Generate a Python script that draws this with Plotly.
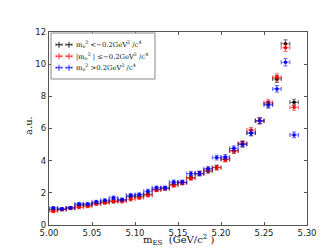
import plotly.graph_objects as go

x_centers = [5.005, 5.015, 5.025, 5.035, 5.045, 5.055, 5.065, 5.075, 5.085, 5.095,
             5.105, 5.115, 5.125, 5.135, 5.145, 5.155, 5.165, 5.175, 5.185, 5.195,
             5.205, 5.215, 5.225, 5.235, 5.245, 5.255, 5.265, 5.275, 5.285]
half_width = [0.005] * len(x_centers)

black_vals = [0.96, 0.97, 1.06, 1.23, 1.23, 1.33, 1.42, 1.48, 1.54, 1.77,
              1.79, 1.90, 2.20, 2.27, 2.52, 2.63, 2.95, 3.20, 3.35, 3.58,
              4.10, 4.62, 5.02, 5.72, 6.48, 7.52, 9.08, 11.27, 7.63]
red_vals = [0.85, 0.97, 1.04, 1.10, 1.17, 1.33, 1.38, 1.48, 1.48, 1.60,
            1.69, 1.85, 2.18, 2.27, 2.46, 2.63, 2.90, 3.20, 3.42, 3.56,
            4.06, 4.60, 5.08, 5.90, 6.48, 7.63, 9.19, 11.02, 7.31]
blue_vals = [1.06, 1.00, 1.06, 1.31, 1.31, 1.44, 1.54, 1.69, 1.58, 1.85,
             1.90, 2.10, 2.31, 2.31, 2.67, 2.67, 3.20, 3.20, 3.50, 4.19,
             4.23, 4.77, 5.02, 5.72, 6.48, 7.46, 8.46, 10.12, 5.60]

black_err = [0.08, 0.08, 0.08, 0.09, 0.09, 0.09, 0.09, 0.10, 0.10, 0.10,
             0.10, 0.11, 0.11, 0.11, 0.12, 0.12, 0.12, 0.13, 0.13, 0.14,
             0.14, 0.15, 0.16, 0.17, 0.18, 0.19, 0.21, 0.24, 0.19]
red_err = [0.08, 0.08, 0.08, 0.08, 0.09, 0.09, 0.09, 0.10, 0.10, 0.10,
           0.10, 0.11, 0.11, 0.11, 0.12, 0.12, 0.12, 0.13, 0.13, 0.14,
           0.14, 0.15, 0.16, 0.17, 0.18, 0.19, 0.21, 0.23, 0.19]
blue_err = [0.08, 0.08, 0.08, 0.09, 0.09, 0.09, 0.09, 0.10, 0.10, 0.10,
            0.10, 0.11, 0.11, 0.11, 0.12, 0.12, 0.13, 0.13, 0.13, 0.14,
            0.15, 0.15, 0.16, 0.17, 0.18, 0.19, 0.20, 0.22, 0.17]

series_names = [
    "m<sub>ν</sub><sup>2</sup> &lt;−0.2GeV<sup>2</sup> /c<sup>4</sup>",
    "|m<sub>ν</sub><sup>2</sup> | ≤−0.2GeV<sup>2</sup> /c<sup>4</sup>",
    "m<sub>ν</sub><sup>2</sup> &gt;0.2GeV<sup>2</sup> /c<sup>4</sup>",
]
series_vals = [black_vals, red_vals, blue_vals]
series_errs = [black_err, red_err, blue_err]
colors = ["0,0,0", "255,0,0", "0,0,255"]

x_ticks = [5.00, 5.05, 5.10, 5.15, 5.20, 5.25, 5.30]
y_ticks = [0, 2, 4, 6, 8, 10, 12]
x_title = "m<sub>ES</sub>  (GeV/c<sup>2</sup> )"
y_title = "a.u."

# layout geometry (pixels)
W, H = 332, 249
ML, MR, MT, MB = 41, 33, 24, 32
PW, PH = W - ML - MR, H - MT - MB


def px(xp):
    return (xp - ML) / PW


def py(yp):
    return (H - MB - yp) / PH


fig = go.Figure()
for name, vals, errs, c in zip(series_names, series_vals, series_errs, colors):
    fig.add_trace(go.Scatter(
        x=x_centers, y=vals, mode="markers", name=name, showlegend=False,
        marker=dict(color=f"rgb({c})", size=3.5),
        error_x=dict(type="data", array=half_width, color=f"rgba({c},0.55)",
                     thickness=1.2, width=2),
        error_y=dict(type="data", array=errs, color=f"rgba({c},0.55)",
                     thickness=1.2, width=2),
    ))

# custom legend: box, glyphs, texts
shapes = [dict(type="rect", xref="paper", yref="paper",
               x0=px(43), x1=px(147), y0=py(71), y1=py(25),
               line=dict(color="#888888", width=1), fillcolor="white", layer="above")]
annotations = []
entry_y = [36.7, 48.2, 59.7]
for name, c, ey in zip(series_names, colors, entry_y):
    for gx in (51, 61):
        col = f"rgba({c},0.8)"
        shapes.append(dict(type="line", xref="paper", yref="paper",
                           x0=px(gx - 3), x1=px(gx + 3), y0=py(ey), y1=py(ey),
                           line=dict(color=col, width=1.1), layer="above"))
        shapes.append(dict(type="line", xref="paper", yref="paper",
                           x0=px(gx), x1=px(gx), y0=py(ey - 3), y1=py(ey + 3),
                           line=dict(color=col, width=1.1), layer="above"))
        for cx in (gx - 3, gx + 3):
            shapes.append(dict(type="line", xref="paper", yref="paper",
                               x0=px(cx), x1=px(cx), y0=py(ey - 1.5), y1=py(ey + 1.5),
                               line=dict(color=col, width=0.8), layer="above"))
    annotations.append(dict(text=name, xref="paper", yref="paper",
                            x=px(66), y=py(ey), xanchor="left", yanchor="middle",
                            showarrow=False,
                            font=dict(family="DejaVu Serif", size=6.8, color="#111111")))

# axis titles as annotations for exact placement
annotations.append(dict(text=x_title, xref="paper", yref="paper",
                        x=px(170), y=py(232), xanchor="center", yanchor="middle",
                        showarrow=False,
                        font=dict(family="DejaVu Serif", size=10, color="#111111")))
annotations.append(dict(text=y_title, xref="paper", yref="paper",
                        x=px(21), y=py(118), xanchor="center", yanchor="middle",
                        textangle=-90, showarrow=False,
                        font=dict(family="DejaVu Serif", size=10, color="#111111")))

axis_common = dict(
    showgrid=False, zeroline=False, showline=True, linecolor="#555555",
    linewidth=1.2, mirror="ticks", ticks="inside", ticklen=3,
    tickcolor="#555555", tickfont=dict(family="DejaVu Sans", size=8.5, color="#222222"),
)

fig.update_layout(
    width=W, height=H,
    margin=dict(l=ML, r=MR, t=MT, b=MB),
    paper_bgcolor="white", plot_bgcolor="white",
    showlegend=False,
    shapes=shapes, annotations=annotations,
    xaxis=dict(range=[5.0, 5.3], tickvals=x_ticks,
               ticktext=[f"{v:.2f}" for v in x_ticks], **axis_common),
    yaxis=dict(range=[0, 12], tickvals=y_ticks, **axis_common),
)

fig.write_html("out.html")
